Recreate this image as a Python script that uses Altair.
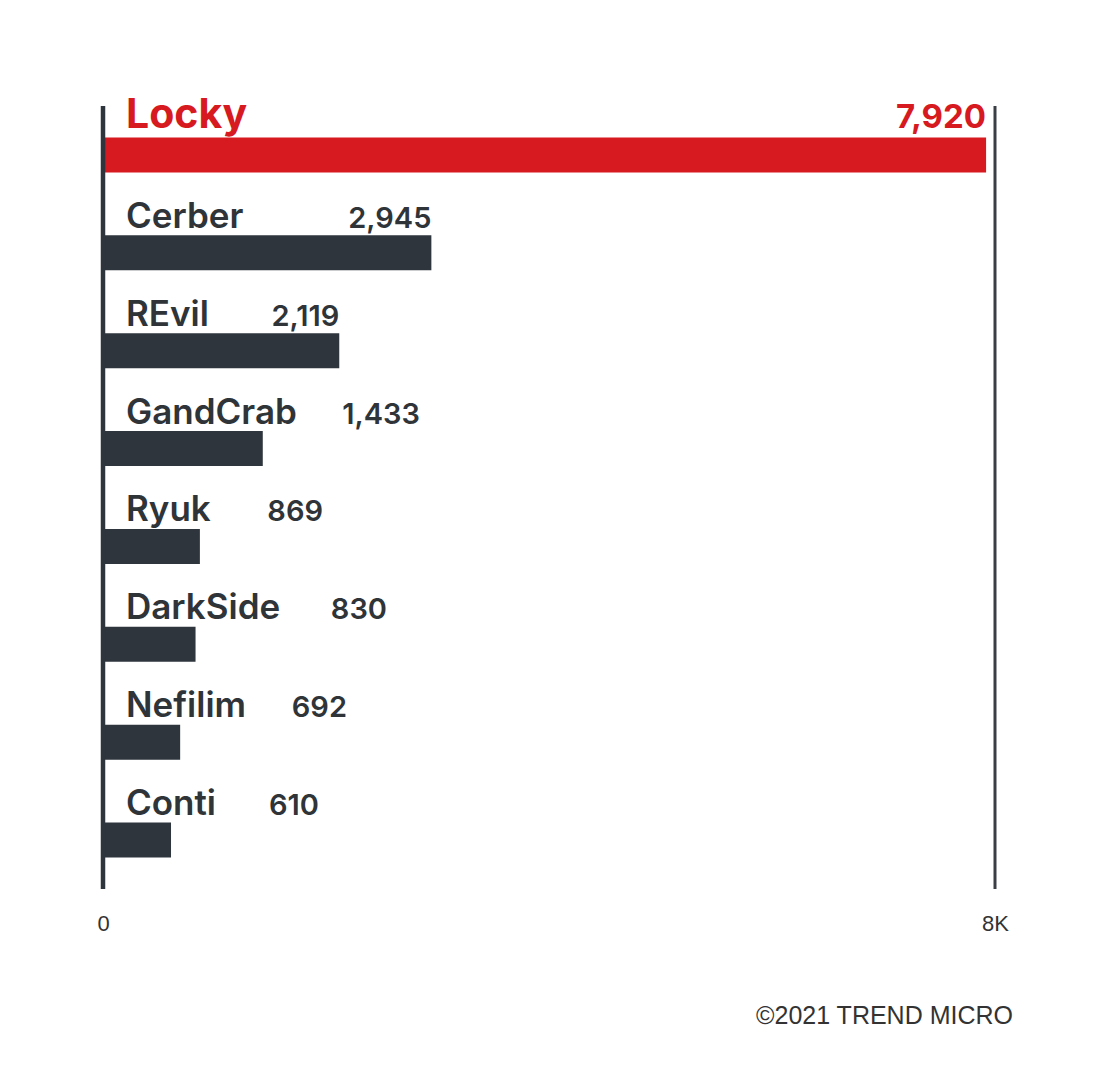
import altair as alt
import pandas as pd

# ---- data ----
names = ["Locky", "Cerber", "REvil", "GandCrab", "Ryuk", "DarkSide", "Nefilim", "Conti"]
counts = [7920, 2945, 2119, 1433, 869, 830, 692, 610]
axis_ticks = [0, 8000]
credit = "©2021 TREND MICRO"

# right edge of each value label, in data units (layout only)
value_label_x = [7920, 2945, 2119, 2843, 1973, 2547, 2188, 1937]

df = pd.DataFrame({"name": names, "count": counts, "label_x": value_label_x})
df["zero"] = 0
edges = pd.DataFrame({"edge": axis_ticks})

RED = "#d71920"
DARK = "#2e353d"
TEXT = "#2f3439"
FONT = "Inter"

xscale = alt.Scale(domain=[0, 8000], nice=False, zero=True)
yenc = alt.Y("name:N", sort=names, scale=alt.Scale(paddingInner=0, paddingOuter=0), axis=None)

base = alt.Chart(df)

bars = base.mark_bar(size=35).encode(
    x=alt.X(
        "count:Q",
        scale=xscale,
        title=None,
        axis=alt.Axis(
            values=axis_ticks,
            labelExpr="datum.value == 0 ? '0' : (datum.value / 1000) + 'K'",
            domain=False,
            ticks=False,
            tickSize=0,
            grid=False,
            labelFlush=False,
            labelFont="Liberation Sans",
            labelFontSize=22,
            labelColor="#333333",
            labelBaseline="middle",
            labelPadding=34,
        ),
    ),
    y=yenc,
    color=alt.condition(alt.datum.name == "Locky", alt.value(RED), alt.value(DARK)),
)

is_top = alt.datum.name == "Locky"
not_top = alt.datum.name != "Locky"

name_top = base.transform_filter(is_top).mark_text(
    align="left", baseline="alphabetic", dx=23, dy=-27,
    font=FONT, fontSize=41, fontWeight=700, color=RED,
).encode(x=alt.X("zero:Q", scale=xscale), y=yenc, text="name:N")

name_rest = base.transform_filter(not_top).mark_text(
    align="left", baseline="alphabetic", dx=23, dy=-25,
    font=FONT, fontSize=35, fontWeight=600, color=TEXT,
).encode(x=alt.X("zero:Q", scale=xscale), y=yenc, text="name:N")

val_top = base.transform_filter(is_top).mark_text(
    align="right", baseline="alphabetic", dy=-27,
    font=FONT, fontSize=33, fontWeight=700, color=RED,
).encode(x=alt.X("label_x:Q", scale=xscale), y=yenc, text=alt.Text("count:Q", format=","))

val_rest = base.transform_filter(not_top).mark_text(
    align="right", baseline="alphabetic", dy=-25,
    font=FONT, fontSize=29, fontWeight=600, color=TEXT,
).encode(x=alt.X("label_x:Q", scale=xscale), y=yenc, text=alt.Text("count:Q", format=","))

left_rule = alt.Chart(edges).transform_filter(alt.datum.edge == 0).mark_rule(
    strokeWidth=4.5, color=DARK
).encode(x=alt.X("edge:Q", scale=xscale))

right_rule = alt.Chart(edges).transform_filter(alt.datum.edge == 8000).mark_rule(
    strokeWidth=3, color="#3a3f45"
).encode(x=alt.X("edge:Q", scale=xscale))

chart = alt.layer(bars, left_rule, right_rule, name_top, name_rest, val_top, val_rest).properties(
    width=892,
    height=783,
    background="white",
    padding={"left": 95, "top": 98, "right": 105, "bottom": 150},
    autosize="none",
    title=alt.TitleParams(
        credit,
        orient="bottom",
        anchor="end",
        frame="group",
        dx=18,
        offset=70,
        font="Liberation Sans",
        fontSize=25,
        fontWeight="normal",
        color="#333333",
    ),
).configure_view(strokeWidth=0, stroke="transparent")

chart.save("out.html", embed_options={"renderer": "svg", "actions": False})
